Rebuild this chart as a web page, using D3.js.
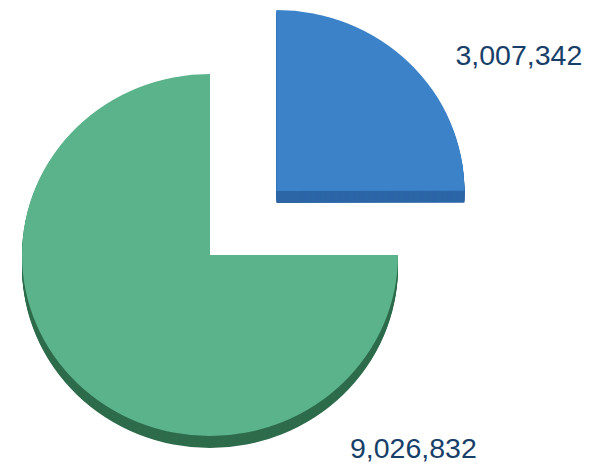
<!DOCTYPE html>
<html>
<head>
<meta charset="utf-8">
<script src="https://cdn.jsdelivr.net/npm/d3@7"></script>
<style>
  html, body { margin: 0; padding: 0; background: #ffffff; }
  svg { display: block; }
</style>
</head>
<body>
<svg id="chart" width="590" height="464"></svg>
<script>
// ---- data ----
const categories = ["A", "B"];
const values = [3007342, 9026832];
const labels = ["3,007,342", "9,026,832"];
const topColors = ["#3b82c8", "#5bb38b"];
const sideColors = ["#2c66a7", "#2e6c4c"];
const explode = [94, 0];

// ---- layout ----
const W = 590, H = 464;
const cx = 210, cy = 255;
const rx = 188, ry = 181;
const depth = 12;
const squash = ry / rx;

const svg = d3.select("#chart");

const pie = d3.pie().sort(null).value(d => d)
  .startAngle(0).endAngle(2 * Math.PI);
const arcs = pie(values);
const arc = d3.arc().innerRadius(0).outerRadius(rx);

function center(i) {
  const a = arcs[i];
  const mid = (a.startAngle + a.endAngle) / 2;
  return {
    x: cx + explode[i] * Math.sin(mid),
    y: cy - explode[i] * Math.cos(mid) * squash
  };
}

arcs.forEach((a, i) => {
  const c = center(i);
  const g = svg.append("g");
  // side (extrusion)
  for (let k = depth; k >= 1; k--) {
    g.append("path")
      .attr("d", arc(a))
      .attr("transform", `translate(${c.x},${c.y + k}) scale(1,${squash})`)
      .attr("fill", sideColors[i]);
  }
  // top face
  g.append("path")
    .attr("d", arc(a))
    .attr("transform", `translate(${c.x},${c.y}) scale(1,${squash})`)
    .attr("fill", topColors[i]);
});

// labels
const labelPos = [
  { x: center(0).x + rx - 9, y: center(0).y - 126 },
  { x: cx + 140, y: cy + 203 }
];
labels.forEach((t, i) => {
  svg.append("text")
    .attr("x", labelPos[i].x)
    .attr("y", labelPos[i].y)
    .attr("font-family", "Liberation Sans, Arial, sans-serif")
    .attr("font-size", 28.5)
    .attr("fill", "#183f69")
    .text(t);
});
</script>
</body>
</html>
